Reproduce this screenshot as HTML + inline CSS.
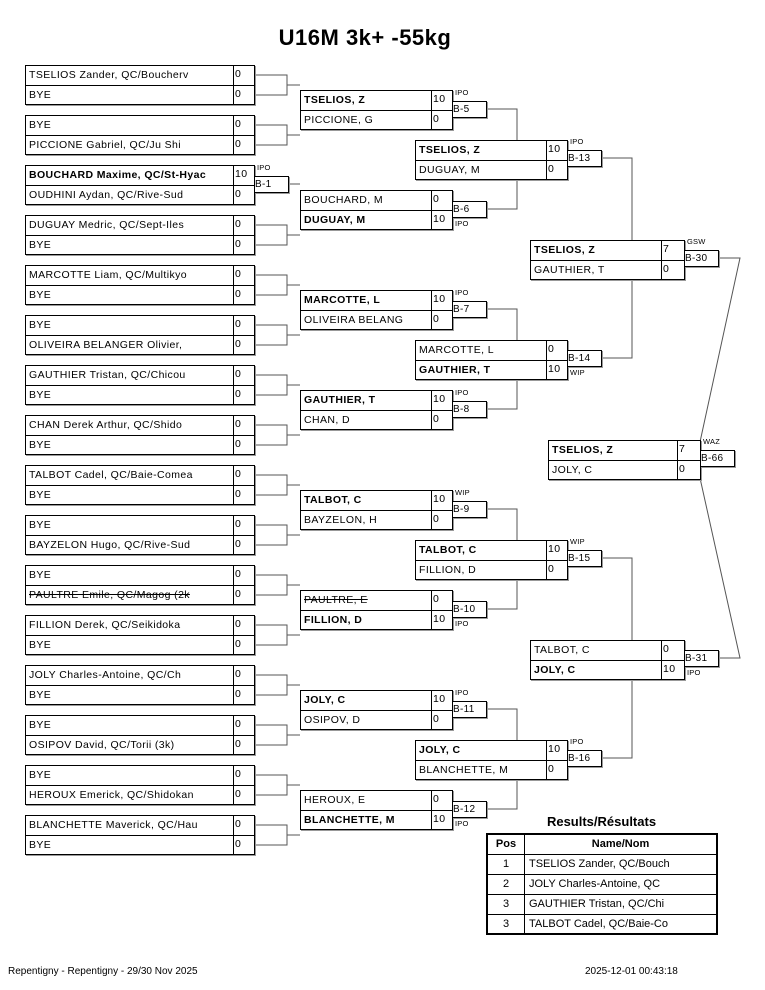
<!DOCTYPE html>
<html><head><meta charset="utf-8"><style>
body{margin:0;width:765px;height:990px;background:#fff;position:relative;font-family:"Liberation Sans",sans-serif;color:#000;overflow:hidden}
.p{position:absolute;border:1px solid #000;background:#fff;font-size:10.5px;letter-spacing:.4px;box-shadow:1px 1px 0 #999}
.row{height:19px;display:flex}
.row+.row{border-top:1px solid #000;height:18px}
.n{flex:1;padding-left:3px;line-height:19px;overflow:hidden;white-space:nowrap}
.s{width:19px;border-left:1px solid #000;line-height:17px;padding-left:1px;white-space:nowrap}
.w .s{width:21px}
.b{font-weight:bold}
.st{text-decoration:line-through}
.bx{position:absolute;width:33px;height:15px;border:1px solid #000;font-size:10px;line-height:15px;padding-left:0;background:#fff;box-sizing:content-box;letter-spacing:.3px;box-shadow:1px 1px 0 #999}
.l{position:absolute;font-size:7.5px;letter-spacing:.2px}
svg{position:absolute;left:0;top:0}
</style></head><body>
<svg width="765" height="990"><g stroke="#555" stroke-width="1" fill="none">
<path d="M254 75H287V95H254M287 85H300"/>
<path d="M254 125H287V145H254M287 135H300"/>
<path d="M288 184H300"/>
<path d="M254 225H287V245H254M287 235H300"/>
<path d="M254 275H287V295H254M287 285H300"/>
<path d="M254 325H287V345H254M287 335H300"/>
<path d="M254 375H287V395H254M287 385H300"/>
<path d="M254 425H287V445H254M287 435H300"/>
<path d="M254 475H287V495H254M287 485H300"/>
<path d="M254 525H287V545H254M287 535H300"/>
<path d="M254 575H287V595H254M287 585H300"/>
<path d="M254 625H287V645H254M287 635H300"/>
<path d="M254 675H287V695H254M287 685H300"/>
<path d="M254 725H287V745H254M287 735H300"/>
<path d="M254 775H287V795H254M287 785H300"/>
<path d="M254 825H287V845H254M287 835H300"/>
<path d="M486 109H517V209H486"/>
<path d="M486 309H517V409H486"/>
<path d="M486 509H517V609H486"/>
<path d="M486 709H517V809H486"/>
<path d="M602 158H632V358H602"/>
<path d="M602 558H632V758H602"/>
<path d="M718 258H740L700 442"/>
<path d="M718 658H740L700 478"/>
</g></svg>

<div style="position:absolute;left:0;width:730px;top:25px;text-align:center;font-size:22px;font-weight:bold;letter-spacing:.5px">U16M 3k+ -55kg</div>

<div class="p" style="left:25px;top:65px;width:228px"><div class="row"><span class="n">TSELIOS Zander, QC/Boucherv</span><span class="s">0</span></div><div class="row"><span class="n">BYE</span><span class="s">0</span></div></div>
<div class="p" style="left:25px;top:115px;width:228px"><div class="row"><span class="n">BYE</span><span class="s">0</span></div><div class="row"><span class="n">PICCIONE Gabriel, QC/Ju Shi</span><span class="s">0</span></div></div>
<div class="p" style="left:25px;top:165px;width:228px"><div class="row"><span class="n b">BOUCHARD Maxime, QC/St-Hyac</span><span class="s">10</span></div><div class="row"><span class="n">OUDHINI Aydan, QC/Rive-Sud</span><span class="s">0</span></div></div>
<div class="p" style="left:25px;top:215px;width:228px"><div class="row"><span class="n">DUGUAY Medric, QC/Sept-Iles</span><span class="s">0</span></div><div class="row"><span class="n">BYE</span><span class="s">0</span></div></div>
<div class="p" style="left:25px;top:265px;width:228px"><div class="row"><span class="n">MARCOTTE Liam, QC/Multikyo</span><span class="s">0</span></div><div class="row"><span class="n">BYE</span><span class="s">0</span></div></div>
<div class="p" style="left:25px;top:315px;width:228px"><div class="row"><span class="n">BYE</span><span class="s">0</span></div><div class="row"><span class="n">OLIVEIRA BELANGER Olivier,</span><span class="s">0</span></div></div>
<div class="p" style="left:25px;top:365px;width:228px"><div class="row"><span class="n">GAUTHIER Tristan, QC/Chicou</span><span class="s">0</span></div><div class="row"><span class="n">BYE</span><span class="s">0</span></div></div>
<div class="p" style="left:25px;top:415px;width:228px"><div class="row"><span class="n">CHAN Derek Arthur, QC/Shido</span><span class="s">0</span></div><div class="row"><span class="n">BYE</span><span class="s">0</span></div></div>
<div class="p" style="left:25px;top:465px;width:228px"><div class="row"><span class="n">TALBOT Cadel, QC/Baie-Comea</span><span class="s">0</span></div><div class="row"><span class="n">BYE</span><span class="s">0</span></div></div>
<div class="p" style="left:25px;top:515px;width:228px"><div class="row"><span class="n">BYE</span><span class="s">0</span></div><div class="row"><span class="n">BAYZELON Hugo, QC/Rive-Sud</span><span class="s">0</span></div></div>
<div class="p" style="left:25px;top:565px;width:228px"><div class="row"><span class="n">BYE</span><span class="s">0</span></div><div class="row"><span class="n st">PAULTRE Emile, QC/Magog (2k</span><span class="s">0</span></div></div>
<div class="p" style="left:25px;top:615px;width:228px"><div class="row"><span class="n">FILLION Derek, QC/Seikidoka</span><span class="s">0</span></div><div class="row"><span class="n">BYE</span><span class="s">0</span></div></div>
<div class="p" style="left:25px;top:665px;width:228px"><div class="row"><span class="n">JOLY Charles-Antoine, QC/Ch</span><span class="s">0</span></div><div class="row"><span class="n">BYE</span><span class="s">0</span></div></div>
<div class="p" style="left:25px;top:715px;width:228px"><div class="row"><span class="n">BYE</span><span class="s">0</span></div><div class="row"><span class="n">OSIPOV David, QC/Torii (3k)</span><span class="s">0</span></div></div>
<div class="p" style="left:25px;top:765px;width:228px"><div class="row"><span class="n">BYE</span><span class="s">0</span></div><div class="row"><span class="n">HEROUX Emerick, QC/Shidokan</span><span class="s">0</span></div></div>
<div class="p" style="left:25px;top:815px;width:228px"><div class="row"><span class="n">BLANCHETTE Maverick, QC/Hau</span><span class="s">0</span></div><div class="row"><span class="n">BYE</span><span class="s">0</span></div></div>
<div class="bx" style="left:254px;top:176px">B-1</div><div class="l" style="left:257px;top:163px">IPO</div>

<div class="p" style="left:300px;top:90px;width:151px"><div class="row"><span class="n b">TSELIOS, Z</span><span class="s">10</span></div><div class="row"><span class="n">PICCIONE, G</span><span class="s">0</span></div></div>
<div class="p" style="left:300px;top:190px;width:151px"><div class="row"><span class="n">BOUCHARD, M</span><span class="s">0</span></div><div class="row"><span class="n b">DUGUAY, M</span><span class="s">10</span></div></div>
<div class="p" style="left:300px;top:290px;width:151px"><div class="row"><span class="n b">MARCOTTE, L</span><span class="s">10</span></div><div class="row"><span class="n">OLIVEIRA BELANG</span><span class="s">0</span></div></div>
<div class="p" style="left:300px;top:390px;width:151px"><div class="row"><span class="n b">GAUTHIER, T</span><span class="s">10</span></div><div class="row"><span class="n">CHAN, D</span><span class="s">0</span></div></div>
<div class="p" style="left:300px;top:490px;width:151px"><div class="row"><span class="n b">TALBOT, C</span><span class="s">10</span></div><div class="row"><span class="n">BAYZELON, H</span><span class="s">0</span></div></div>
<div class="p" style="left:300px;top:590px;width:151px"><div class="row"><span class="n st">PAULTRE, E</span><span class="s">0</span></div><div class="row"><span class="n b">FILLION, D</span><span class="s">10</span></div></div>
<div class="p" style="left:300px;top:690px;width:151px"><div class="row"><span class="n b">JOLY, C</span><span class="s">10</span></div><div class="row"><span class="n">OSIPOV, D</span><span class="s">0</span></div></div>
<div class="p" style="left:300px;top:790px;width:151px"><div class="row"><span class="n">HEROUX, E</span><span class="s">0</span></div><div class="row"><span class="n b">BLANCHETTE, M</span><span class="s">10</span></div></div>
<div class="bx" style="left:452px;top:101px">B-5</div><div class="l" style="left:455px;top:88px">IPO</div>
<div class="bx" style="left:452px;top:201px">B-6</div><div class="l" style="left:455px;top:219px">IPO</div>
<div class="bx" style="left:452px;top:301px">B-7</div><div class="l" style="left:455px;top:288px">IPO</div>
<div class="bx" style="left:452px;top:401px">B-8</div><div class="l" style="left:455px;top:388px">IPO</div>
<div class="bx" style="left:452px;top:501px">B-9</div><div class="l" style="left:455px;top:488px">WIP</div>
<div class="bx" style="left:452px;top:601px">B-10</div><div class="l" style="left:455px;top:619px">IPO</div>
<div class="bx" style="left:452px;top:701px">B-11</div><div class="l" style="left:455px;top:688px">IPO</div>
<div class="bx" style="left:452px;top:801px">B-12</div><div class="l" style="left:455px;top:819px">IPO</div>

<div class="p" style="left:415px;top:140px;width:151px"><div class="row"><span class="n b">TSELIOS, Z</span><span class="s">10</span></div><div class="row"><span class="n">DUGUAY, M</span><span class="s">0</span></div></div>
<div class="p" style="left:415px;top:340px;width:151px"><div class="row"><span class="n">MARCOTTE, L</span><span class="s">0</span></div><div class="row"><span class="n b">GAUTHIER, T</span><span class="s">10</span></div></div>
<div class="p" style="left:415px;top:540px;width:151px"><div class="row"><span class="n b">TALBOT, C</span><span class="s">10</span></div><div class="row"><span class="n">FILLION, D</span><span class="s">0</span></div></div>
<div class="p" style="left:415px;top:740px;width:151px"><div class="row"><span class="n b">JOLY, C</span><span class="s">10</span></div><div class="row"><span class="n">BLANCHETTE, M</span><span class="s">0</span></div></div>
<div class="bx" style="left:567px;top:150px">B-13</div><div class="l" style="left:570px;top:137px">IPO</div>
<div class="bx" style="left:567px;top:350px">B-14</div><div class="l" style="left:570px;top:368px">WIP</div>
<div class="bx" style="left:567px;top:550px">B-15</div><div class="l" style="left:570px;top:537px">WIP</div>
<div class="bx" style="left:567px;top:750px">B-16</div><div class="l" style="left:570px;top:737px">IPO</div>

<div class="p w" style="left:530px;top:240px;width:153px"><div class="row"><span class="n b">TSELIOS, Z</span><span class="s">7</span></div><div class="row"><span class="n">GAUTHIER, T</span><span class="s">0</span></div></div>
<div class="p w" style="left:530px;top:640px;width:153px"><div class="row"><span class="n">TALBOT, C</span><span class="s">0</span></div><div class="row"><span class="n b">JOLY, C</span><span class="s">10</span></div></div>
<div class="bx" style="left:684px;top:250px">B-30</div><div class="l" style="left:687px;top:237px">GSW</div>
<div class="bx" style="left:684px;top:650px">B-31</div><div class="l" style="left:687px;top:668px">IPO</div>

<div class="p w" style="left:548px;top:440px;width:151px"><div class="row"><span class="n b">TSELIOS, Z</span><span class="s">7</span></div><div class="row"><span class="n">JOLY, C</span><span class="s">0</span></div></div>
<div class="bx" style="left:700px;top:450px">B-66</div><div class="l" style="left:703px;top:437px">WAZ</div>

<div style="position:absolute;left:486px;width:231px;top:814px;text-align:center;font-size:13px;font-weight:bold">Results/Résultats</div>
<table style="position:absolute;left:486px;top:833px;width:232px;border-collapse:collapse;font-size:11px;border:2px solid #000">
<tr style="height:20px"><th style="width:34px;border:1px solid #000">Pos</th><th style="border:1px solid #000">Name/Nom</th></tr>
<tr style="height:20px"><td style="text-align:center;border:1px solid #000">1</td><td style="border:1px solid #000;padding-left:4px">TSELIOS Zander, QC/Bouch</td></tr>
<tr style="height:20px"><td style="text-align:center;border:1px solid #000">2</td><td style="border:1px solid #000;padding-left:4px">JOLY Charles-Antoine, QC</td></tr>
<tr style="height:20px"><td style="text-align:center;border:1px solid #000">3</td><td style="border:1px solid #000;padding-left:4px">GAUTHIER Tristan, QC/Chi</td></tr>
<tr style="height:20px"><td style="text-align:center;border:1px solid #000">3</td><td style="border:1px solid #000;padding-left:4px">TALBOT Cadel, QC/Baie-Co</td></tr>
</table>

<div style="position:absolute;left:8px;top:966px;font-size:10px">Repentigny - Repentigny - 29/30 Nov 2025</div>
<div style="position:absolute;left:585px;top:966px;font-size:10px">2025-12-01 00:43:18</div>
</body></html>
